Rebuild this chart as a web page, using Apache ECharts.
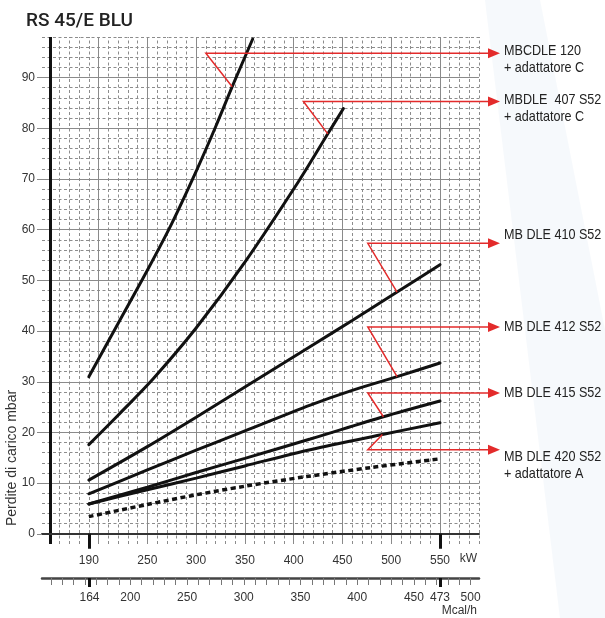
<!DOCTYPE html>
<html><head><meta charset="utf-8">
<script src="https://cdn.jsdelivr.net/npm/echarts@6/dist/echarts.min.js"></script>
<style>html,body{margin:0;padding:0;background:#fff}#c{width:605px;height:618px}</style>
</head><body><div id="c"></div>
<script>
// ---------------- data ----------------
const titleText = 'RS 45/E BLU';
const yAxisName = 'Perdite di carico mbar';
const kwUnit = 'kW';
const mcalUnit = 'Mcal/h';

const kwMin = 142, kwMax = 590;
const mbarMin = -2, mbarMax = 98;
const kwToMcal = 0.86;

const kwTickLabels = [190, 250, 300, 350, 400, 450, 500, 550];
const kwBoldTicks = [190, 550];
const mcalTickLabels = [164, 200, 250, 300, 350, 400, 450, 473, 500];
const mcalBoldTicks = [164, 473];
const mbarTickLabels = [0, 10, 20, 30, 40, 50, 60, 70, 80, 90];

// curves: capacity (kW) and pressure loss (mbar)
const kw120 = [190, 220, 250, 275, 300, 320, 337, 358];
const mbar120 = [31, 41.5, 52, 61.2, 71.5, 80.3, 88.2, 97.6];
const kw407 = [190, 220, 256, 300, 350, 406, 435, 451];
const mbar407 = [17.6, 23.4, 30.6, 40.6, 53.6, 69.8, 78.9, 83.9];
const kw410 = [190, 250, 300, 362, 420, 460, 506, 550];
const mbar410 = [10.6, 17.2, 23, 30.4, 37.3, 42.1, 47.7, 53.1];
const kw412 = [190, 250, 300, 350, 417, 460, 506, 550];
const mbar412 = [7.9, 12.6, 16.5, 20.3, 25.4, 28.3, 31.0, 33.7];
const kw415 = [190, 250, 300, 350, 417, 492, 550];
const mbar415 = [5.9, 9.2, 12.1, 14.9, 18.7, 23.1, 26.2];
const kw420 = [190, 250, 300, 350, 417, 491, 550];
const mbar420 = [5.9, 8.7, 11.0, 13.4, 16.6, 19.6, 21.9];
const kwHead = [190, 250, 300, 350, 413, 480, 550];
const mbarHead = [3.4, 5.8, 7.7, 9.4, 11.3, 13.1, 14.8];

// annotations (label text, curve, anchor point index on that curve)
const annLabels = [
  ['MBCDLE 120', '+ adattatore C'],
  ['MBDLE  407 S52', '+ adattatore C'],
  ['MB DLE 410 S52'],
  ['MB DLE 412 S52'],
  ['MB DLE 415 S52'],
  ['MB DLE 420 S52', '+ adattatore A']
];
const annCurve = [0, 1, 2, 3, 4, 5];
const annAnchorIdx = [6, 6, 6, 6, 5, 5];
const annLevelMbar = [94.8, 85.3, 57.3, 40.8, 27.8, 16.6];
const annElbowKw = [310, 410, 476, 476, 476, 476];

// ---------------- layout / style ----------------
const annTextDy = [-2, -2, -8, 0, 0, 7];
const RED = '#e32b2b';
const curves = [
  [kw120, mbar120], [kw407, mbar407], [kw410, mbar410], [kw412, mbar412],
  [kw415, mbar415], [kw420, mbar420]
];
const zip = (a, b) => a.map((v, i) => [v, b[i]]);
const range = (a, b, s) => { const r = []; for (let v = a; v <= b + 1e-9; v += s) r.push(v); return r; };

const minorDash = { color: '#8c8c8c', width: 1, type: [3, 2.5] };
const majorSolid = { color: '#8a8a8a', width: 1, type: 'solid' };

const gridMarks = [];
range(160, 590, 10).forEach(v => { if (v % 50 !== 0) gridMarks.push({ xAxis: v, lineStyle: minorDash }); });
range(2, 98, 2).forEach(v => { if (v % 10 !== 0) gridMarks.push({ yAxis: v, lineStyle: minorDash }); });
range(200, 550, 50).forEach(v => gridMarks.push({ xAxis: v, lineStyle: majorSolid }));
range(10, 90, 10).forEach(v => gridMarks.push({ yAxis: v, lineStyle: majorSolid }));
gridMarks.push({ xAxis: 150, lineStyle: { color: '#111', width: 3, type: 'solid' } });

const tickFont = { color: '#333', fontSize: 12, fontFamily: 'Liberation Sans, Arial, sans-serif' };

const chart = echarts.init(document.getElementById('c'), null, { renderer: 'canvas' });

const series = [{
  type: 'line', data: [], silent: true, z: 0, zlevel: 0,
  markLine: { silent: true, symbol: ['none', 'none'], label: { show: false }, animation: false,
    emphasis: { disabled: true }, z: 0, data: gridMarks }
}];
curves.forEach(([k, m], i) => series.push({
  type: 'line', name: annLabels[i][0], data: zip(k, m), showSymbol: false, symbol: 'none',
  smooth: 0.3, z: 10, zlevel: 1, silent: true,
  lineStyle: { color: '#111', width: 3, cap: 'round' }
}));
series.push({
  type: 'line', data: zip(kwHead, mbarHead), showSymbol: false, symbol: 'none',
  smooth: 0.3, z: 10, zlevel: 1, silent: true,
  lineStyle: { color: '#111', width: 3.5, type: [5, 3.5] }
});

chart.setOption({
  animation: false,
  backgroundColor: '#fff',
  title: { text: titleText, left: 21, top: 7,
    textStyle: { fontSize: 19, fontWeight: 500, color: '#222', fontFamily: 'Roboto, Liberation Sans, sans-serif' } },
  grid: { left: 42, right: 126, top: 37, bottom: 74, containLabel: false },
  xAxis: [{
    type: 'value', min: kwMin, max: kwMax, position: 'bottom',
    axisLine: { onZero: true, lineStyle: { color: '#333', width: 2 } },
    axisTick: { customValues: kwBoldTicks, length: 15, lineStyle: { color: '#111', width: 3 } },
    axisLabel: { customValues: kwTickLabels, margin: 11, ...tickFont },
    splitLine: { show: false }
  }, {
    type: 'value', min: kwMin * kwToMcal, max: kwMax * kwToMcal, position: 'bottom', offset: 34,
    axisLine: { onZero: false, lineStyle: { color: '#444', width: 2.5 } },
    axisTick: { customValues: range(130, 500, 10), length: 7, lineStyle: { color: '#777', width: 1 } },
    axisLabel: { customValues: mcalTickLabels, margin: 14, ...tickFont },
    splitLine: { show: false }
  }, {
    type: 'value', min: kwMin * kwToMcal, max: kwMax * kwToMcal, position: 'bottom', offset: 34,
    axisLine: { show: false, onZero: false },
    axisTick: { customValues: mcalBoldTicks, length: 9, lineStyle: { color: '#111', width: 3 } },
    axisLabel: { show: false }, splitLine: { show: false }
  }],
  yAxis: {
    type: 'value', min: mbarMin, max: mbarMax,
    axisLine: { show: false },
    axisTick: { show: true, customValues: mbarTickLabels, length: 5, lineStyle: { color: '#8a8a8a' } },
    axisLabel: { customValues: mbarTickLabels, margin: 7, ...tickFont },
    splitLine: { show: false }
  },
  series
});

// ---------------- annotations & extra text ----------------
const px = (x, y) => chart.convertToPixel({ gridIndex: 0 }, [x, y]);
const rightPx = px(kwMax, 0)[0];
const tipX = rightPx + 21;
const els = [];
els.push({ type: 'polygon', z: -10, silent: true,
  shape: { points: [[485, 0], [540, 0], [605, 330], [605, 618], [560, 618]] },
  style: { fill: 'rgba(220,230,242,0.25)' } });
annLabels.forEach((lines, i) => {
  const c = curves[annCurve[i]];
  const a = px(c[0][annAnchorIdx[i]], c[1][annAnchorIdx[i]]);
  const e = px(annElbowKw[i], annLevelMbar[i]);
  els.push({ type: 'polyline', z: 50, zlevel: 2, silent: true,
    shape: { points: [a, e, [tipX - 8, e[1]]] },
    style: { stroke: RED, lineWidth: 1.5, fill: null } });
  els.push({ type: 'polygon', z: 50, zlevel: 2, silent: true,
    shape: { points: [[tipX - 12, e[1] - 5], [tipX, e[1]], [tipX - 12, e[1] + 5]] },
    style: { fill: RED } });
  lines.forEach((t, j) => els.push({ type: 'text', z: 50, zlevel: 2, silent: true,
    x: tipX + 4, y: e[1] + annTextDy[i] + j * 17, scaleX: 0.84,
    style: { text: t, fill: '#222', fontSize: 15, verticalAlign: 'middle', align: 'left',
      fontFamily: 'Liberation Sans, Arial, sans-serif' } }));
});
const zeroY = px(kwMin, 0)[1];
els.push({ type: 'text', silent: true, x: rightPx - 2, y: zeroY + 25,
  style: { text: kwUnit, fill: '#333', fontSize: 12, fontFamily: 'Liberation Sans, sans-serif', align: 'right', verticalAlign: 'middle' } });
els.push({ type: 'text', silent: true, x: rightPx - 2, y: 611,
  style: { text: mcalUnit, fill: '#333', fontSize: 12, fontFamily: 'Liberation Sans, sans-serif', align: 'right', verticalAlign: 'middle' } });
els.push({ type: 'text', silent: true, x: 12, y: 458, rotation: Math.PI / 2,
  style: { text: yAxisName, fill: '#333', fontSize: 14, fontFamily: 'Liberation Sans, sans-serif', align: 'center', verticalAlign: 'middle' } });
chart.setOption({ graphic: { elements: els } });
</script></body></html>
